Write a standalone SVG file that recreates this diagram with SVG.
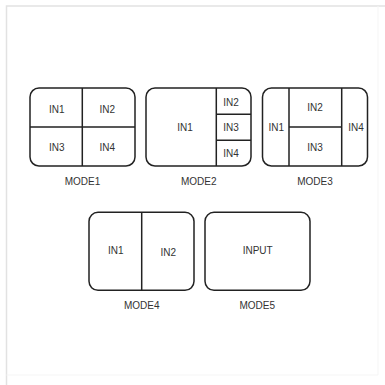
<svg xmlns="http://www.w3.org/2000/svg" width="385" height="385" viewBox="0 0 385 385">
<style>
.frame{fill:none;stroke:#222;stroke-width:1.5}
.div{stroke:#222;stroke-width:1.5;fill:none}
text{font-family:"Liberation Sans",Arial,sans-serif;font-size:10px;fill:#333;text-anchor:middle;dominant-baseline:central}
</style>
<rect width="385" height="385" fill="#fff"/>
<path d="M6.5 385 V6 H385" fill="none" stroke="#e2e2e2" stroke-width="1.5"/>
<path d="M378 6 V375 H6.5" fill="none" stroke="#f5f5f5" stroke-width="1"/>
<g id="mode1">
<rect class="frame" x="30" y="88" width="105" height="78" rx="9"/>
<path class="div" d="M82.3 88 V166 M30 127 H135"/>
<text x="56.7" y="109">IN1</text><text x="107.3" y="109">IN2</text>
<text x="56.7" y="147">IN3</text><text x="107.3" y="147">IN4</text>
<text x="82.5" y="181.7">MODE1</text>
</g>
<g id="mode2">
<rect class="frame" x="146" y="88" width="105" height="78" rx="9"/>
<path class="div" d="M216.3 88 V166 M216.3 114.3 H251 M216.3 140.3 H251"/>
<text x="185" y="127">IN1</text><text x="231" y="102">IN2</text>
<text x="231" y="127">IN3</text><text x="231" y="153">IN4</text>
<text x="198.7" y="181.7">MODE2</text>
</g>
<g id="mode3">
<rect class="frame" x="262.5" y="88" width="105" height="78" rx="9"/>
<path class="div" d="M289 88 V166 M341.7 88 V166 M289 127 H341.7"/>
<text x="276.3" y="127">IN1</text><text x="315" y="107.3">IN2</text>
<text x="315" y="147">IN3</text><text x="356" y="127">IN4</text>
<text x="315" y="181.7">MODE3</text>
</g>
<g id="mode4">
<rect class="frame" x="89" y="212.3" width="105" height="78" rx="9"/>
<path class="div" d="M141.7 212.3 V290.3"/>
<text x="115.7" y="250.7">IN1</text><text x="168.3" y="252">IN2</text>
<text x="141.7" y="305.7">MODE4</text>
</g>
<g id="mode5">
<rect class="frame" x="205" y="212.3" width="105" height="78" rx="9"/>
<text x="257.7" y="250.7">INPUT</text>
<text x="257.3" y="305.7">MODE5</text>
</g>
<g id="connectors"/>
</svg>
